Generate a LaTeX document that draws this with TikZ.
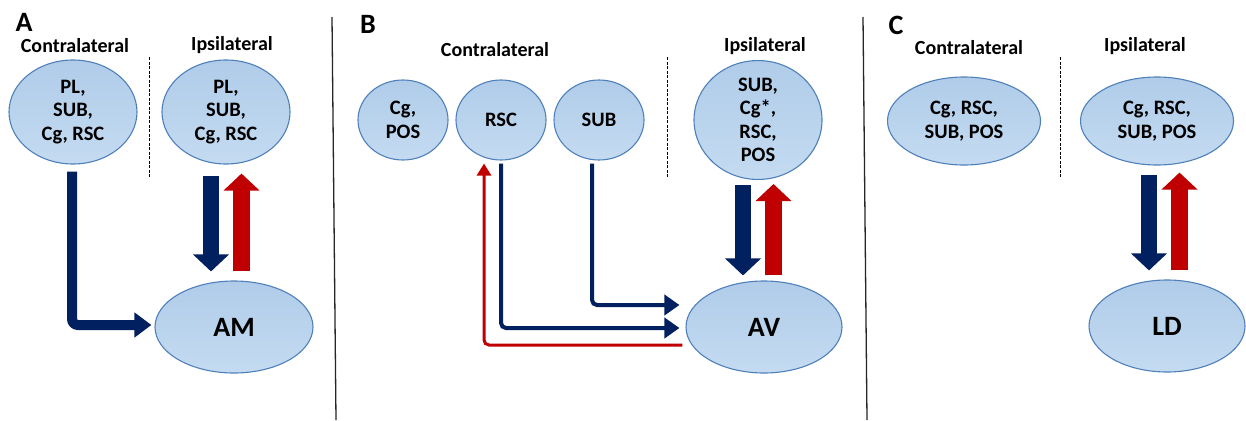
\documentclass[tikz,border=0pt]{standalone}
\usepackage{fontspec}
\setmainfont{Carlito}
\usetikzlibrary{shapes.geometric,arrows.meta,calc}
\definecolor{efilltop}{HTML}{B0CCE9}
\definecolor{efillbot}{HTML}{C4DBF1}
\definecolor{eborder}{HTML}{4F80BA}
\definecolor{navy}{HTML}{002060}
\definecolor{dred}{HTML}{C00000}
\tikzset{
  region/.style={ellipse, draw=eborder, line width=1.1pt, top color=efilltop, bottom color=efillbot, inner sep=0pt, align=center, font=\fontsize{20.5}{23.5}\selectfont\bfseries},
  target/.style={region, font=\fontsize{28}{30}\selectfont\bfseries},
  side/.style={font=\fontsize{20}{22}\selectfont\bfseries},
  panel/.style={font=\fontsize{28}{30}\selectfont\bfseries},
  divider/.style={draw=black!85, line width=1.3pt},
  sep/.style={draw=black, line width=1pt, dash pattern=on 3pt off 1.5pt},
  fatblue/.style={draw=navy, line width=16.5pt, -{Triangle[length=17pt,width=35pt]}},
  fatred/.style={draw=dred, line width=16.5pt, -{Triangle[length=17pt,width=35pt]}},
  bentblue/.style={draw=navy, line width=10pt, rounded corners=6pt, -{Triangle[length=17pt,width=24pt]}},
  thinblue/.style={draw=navy, line width=4pt, rounded corners=5pt, -{Triangle[length=15pt,width=20pt]}},
  thinred/.style={draw=dred, line width=3pt, rounded corners=5pt, -{Triangle[length=12pt,width=14pt]}},
}
\begin{document}
\begin{tikzpicture}[x=1pt,y=-1pt]
\useasboundingbox (0,0) rectangle (1246,420);
\fill[white] (0,0) rectangle (1246,420);

% dividers
\coordinate (d1t) at (332,17); \coordinate (d1b) at (336,420);
\coordinate (d2t) at (863,17); \coordinate (d2b) at (867,420);
\draw[divider] (d1t) -- (d1b);
\draw[divider] (d2t) -- (d2b);

% ---------- Panel A ----------
\node[panel] (labA) at (24,22) {A};
\node[side] (contraA) at (75,46) {Contralateral};
\node[side] (ipsiA) at (232,45) {Ipsilateral};
\coordinate (sepAt) at (149,57); \coordinate (sepAb) at (149,177);
\draw[sep] (sepAt) -- (sepAb);
\node[region, minimum width=128pt, minimum height=104pt] (cA) at (73,112) {PL,\\SUB,\\Cg, RSC};
\node[region, minimum width=128pt, minimum height=104pt] (iA) at (226,112) {PL,\\SUB,\\Cg, RSC};
\node[target, minimum width=158pt, minimum height=92pt] (AM) at (234,327) {AM};
\draw[fatblue] ($(iA.south)+(-15,11)$) -- ($(AM.north)+(-23,-9)$);
\draw[fatred] ($(AM.north)+(7.5,-9)$) -- ($(iA.south)+(15.5,9)$);
\draw[bentblue] ($(cA.south)+(-1,7)$) |- ($(AM.west)+(-3,-2)$);

% ---------- Panel B ----------
\node[panel] (labB) at (368,24) {B};
\node[side] (contraB) at (495,50) {Contralateral};
\node[side] (ipsiB) at (765,46) {Ipsilateral};
\coordinate (sepBt) at (667,57); \coordinate (sepBb) at (667,178);
\draw[sep] (sepBt) -- (sepBb);
\node[region, minimum width=90pt, minimum height=80pt] (cgB) at (403,120) {Cg,\\POS};
\node[region, minimum width=90pt, minimum height=80pt] (rscB) at (501,120) {RSC};
\node[region, minimum width=90pt, minimum height=80pt] (subB) at (599,120) {SUB};
\node[region, minimum width=128pt, minimum height=106pt] (iB) at (758,120) {SUB,\\Cg*,\\RSC,\\POS};
\node[target, minimum width=156pt, minimum height=92pt] (AV) at (764,327) {AV};
\draw[fatblue] ($(iB.south)+(-15,5)$) -- ($(AV.north)+(-21,-5)$);
\draw[fatred] ($(AV.north)+(9.5,-5)$) -- ($(iB.south)+(15.5,4)$);
\draw[thinblue] ($(subB.south)+(-7,3)$) |- ($(AV.west)+(-6,-22)$);
\draw[thinblue] ($(rscB.south)+(0,3)$) |- ($(AV.west)+(-6,1)$);
\draw[thinred] ($(AV.west)+(-3,18)$) -| ($(rscB.south)+(-17,3)$);

% ---------- Panel C ----------
\node[panel] (labC) at (896,25) {C};
\node[side] (contraC) at (969,48) {Contralateral};
\node[side] (ipsiC) at (1145,46) {Ipsilateral};
\coordinate (sepCt) at (1060,57); \coordinate (sepCb) at (1060,177);
\draw[sep] (sepCt) -- (sepCb);
\node[region, minimum width=153pt, minimum height=88pt] (cC) at (964,121) {Cg, RSC,\\SUB, POS};
\node[region, minimum width=153pt, minimum height=88pt] (iC) at (1157,121) {Cg, RSC,\\SUB, POS};
\node[target, minimum width=156pt, minimum height=92pt] (LD) at (1167,326) {LD};
\draw[fatblue] ($(iC.south)+(-8,9)$) -- ($(LD.north)+(-18,-9)$);
\draw[fatred] ($(LD.north)+(12.5,-9)$) -- ($(iC.south)+(22.5,7)$);
\end{tikzpicture}
\end{document}
